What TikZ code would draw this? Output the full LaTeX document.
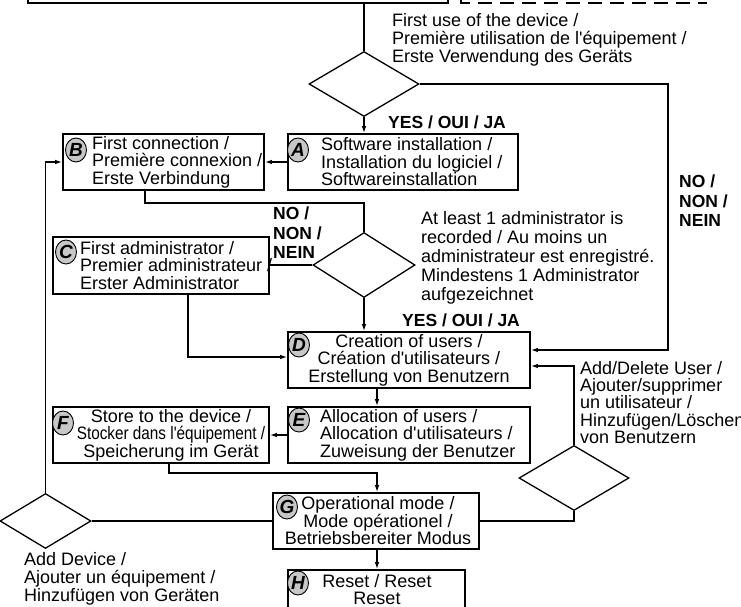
\documentclass[tikz,border=0pt]{standalone}
\usepackage{fontspec}
\setmainfont{Liberation Sans}
\usepackage{graphicx}
\usetikzlibrary{shapes.geometric,arrows.meta}
\newcommand{\ap}{\textquotesingle}
\begin{document}
\begin{tikzpicture}[x=1pt,y=-1pt,
  box/.style={draw, line width=1.6pt, inner sep=0pt},
  dia/.style={draw, diamond, line width=1.3pt, inner sep=0pt},
  con/.style={line width=1.3pt},
  arr/.style={line width=1.3pt, -{Latex[length=7pt,width=4.5pt]}},
  circ/.style={draw, ellipse, fill=black!22, line width=0.9pt, minimum width=21pt, minimum height=24pt, inner sep=0pt, font=\fontsize{19}{19}\selectfont\bfseries\itshape},
  txt/.style={inner sep=0pt, align=left, font=\fontsize{18}{17.5}\selectfont},
  ctxt/.style={inner sep=0pt, align=center, font=\fontsize{18}{17.5}\selectfont},
  lbl/.style={inner sep=0pt, align=left, anchor=west, font=\fontsize{18}{18}\selectfont},
  blbl/.style={inner sep=0pt, align=left, anchor=west, font=\fontsize{17.5}{19.5}\selectfont\bfseries}
]
\clip (0,0) rectangle (741,607);

% boxes
\node[box, minimum width=420pt, minimum height=43pt] (T) at (238,-18.5) {};
\node[box, minimum width=230pt, minimum height=56pt] (A) at (403,162) {};
\node[box, minimum width=201pt, minimum height=56pt] (B) at (163.5,162) {};
\node[box, minimum width=216pt, minimum height=57pt] (C) at (161,265.5) {};
\node[box, minimum width=242pt, minimum height=56pt] (D) at (409,360) {};
\node[box, minimum width=242pt, minimum height=56pt] (E) at (409,435) {};
\node[box, minimum width=216pt, minimum height=56pt] (F) at (161,435) {};
\node[box, minimum width=206pt, minimum height=56pt] (G) at (376,521) {};
\node[box, minimum width=177pt, minimum height=60pt] (H) at (376.5,600) {};

% diamonds
\node[dia, minimum width=110pt, minimum height=65pt] (d1) at (364,84) {};
\node[dia, minimum width=102pt, minimum height=65pt] (d2) at (364,265) {};
\node[dia, minimum width=110pt, minimum height=65pt] (d3) at (574,478) {};
\node[dia, minimum width=91pt, minimum height=55pt] (d4) at (45.5,521) {};

% dashed fragment at top
\coordinate (ds1) at (461,-2);
\coordinate (ds2) at (461,3);
\coordinate (ds3) at (707,3);
\draw[con, dash pattern=on 14pt off 8pt] (ds1) -- (ds2) -- (ds3);

% box texts
\node[txt, anchor=west] (At) at (321,162) {Software installation /\\Installation du logiciel /\\Softwareinstallation};
\node[txt, anchor=west] (Bt) at (92,162) {First connection /\\Première connexion /\\Erste Verbindung};
\node[txt, anchor=west] (Ct) at (80,265.5) {First administrator /\\Premier administrateur /\\Erster Administrator};
\node[ctxt] (Dt) at (409,360) {Creation of users /\\Création d\ap utilisateurs /\\Erstellung von Benutzern};
\node[txt, anchor=west] (Et) at (320,435) {Allocation of users /\\Allocation d\ap utilisateurs /\\Zuweisung der Benutzer};
\node[ctxt] (Ft) at (171,435) {Store to the device /\\\scalebox{0.85}[1]{Stocker dans l\ap équipement /}\\Speicherung im Gerät};
\node[ctxt] (Gt) at (378,521) {Operational mode /\\Mode opérationel /\\Betriebsbereiter Modus};
\node[inner sep=0pt, align=center, font=\fontsize{18}{17}\selectfont] (Ht) at (377,590) {Reset / Reset\\Reset};

% letter circles
\node[circ] (cA) at (298,150) {A};
\node[circ] (cB) at (76,150) {B};
\node[circ] (cC) at (66,252) {C};
\node[circ] (cD) at (299,345) {D};
\node[circ] (cE) at (299,420) {E};
\node[circ] (cF) at (63,423) {F};
\node[circ] (cG) at (287,507) {G};
\node[circ] (cH) at (298,583) {H};

% labels
\node[lbl] (l1) at (392,40) {First use of the device /\\Première utilisation de l\ap équipement /\\Erste Verwendung des Geräts};
\node[blbl] (y1) at (388,122) {YES / OUI / JA};
\node[blbl] (n1) at (679,201) {NO /\\NON /\\NEIN};
\node[blbl] (n2) at (273,233) {NO /\\NON /\\NEIN};
\node[inner sep=0pt, align=left, anchor=west, font=\fontsize{18}{19}\selectfont] (l2) at (421,257.5) {At least 1 administrator is\\recorded / Au moins un\\administrateur est enregistré.\\Mindestens 1 Administrator\\aufgezeichnet};
\node[blbl] (y2) at (402,320) {YES / OUI / JA};
\node[inner sep=0pt, align=left, anchor=west, font=\fontsize{18}{17.2}\selectfont] (l3) at (580,402.5) {Add/Delete User /\\Ajouter/supprimer\\un utilisateur /\\Hinzufügen/Löschen\\von Benutzern};
\node[lbl] (l4) at (24,579) {Add Device /\\Ajouter un équipement /\\Hinzufügen von Geräten};

% helper coordinates
\coordinate (nr) at (668,350);
\coordinate (b1) at (145,203);
\coordinate (c1) at (188,357);
\coordinate (mx) at (377,0);
\coordinate (f1) at (169,473);
\coordinate (ar) at (574,366);

% connectors
\draw[con] (d1.north |- T.south) -- (d1.north);
\draw[arr] (d1.south) -- (d1.south |- A.north);
\draw[arr] (d1.east) -| (nr) -- (nr -| D.east);
\draw[arr] (A.west) -- (B.east);
\draw[con] (b1 |- B.south) -- (b1) -| (d2.north);
\draw[con] (d2.west) -- (d2.west -| C.east);
\draw[arr] (d2.south) -- (d2.south |- D.north);
\draw[arr] (c1 |- C.south) -- (c1) -- (c1 -| D.west);
\draw[arr] (mx |- D.south) -- (mx |- E.north);
\draw[arr] (E.west) -- (F.east);
\draw[arr] (f1 |- F.south) -- (f1) -| (mx |- G.north);
\draw[con] (G.east) -| (d3.south);
\draw[arr] (d3.north) -- (ar) -- (ar -| D.east);
\draw[con] (G.west) -- (d4.east);
\draw[arr] (d4.north) -- (d4.north |- B.west) -- (B.west);
\draw[arr] (G.south -| mx) -- (H.north -| mx);
\end{tikzpicture}
\end{document}
